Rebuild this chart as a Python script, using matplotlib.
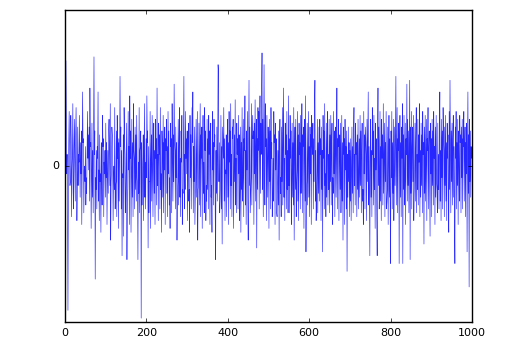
import numpy as np
import matplotlib
matplotlib.use("Agg")
import matplotlib.pyplot as plt

# noise signal, values (one row = 25 samples)
signal = [
    0.4, 0.9, 2.7, 1.1, -0.2, 0.3, -1.2, -3.7, -0.8, 0.6, 1.4, 0.2, -0.5, -0.4, 1.3, 0.7, -1.3, -0.1, 0.3, 1.6, -0.7, -1.1, 0.5, 1.2, 0.1,
    -0.9, 0.8, 1.5, 0.3, -1.4, -0.6, 1.0, -0.5, 0.3, 0.1, 1.3, 0.2, -0.8, 0.6, -0.2, 0.9, -1.5, 0.4, 1.9, 0.6, 0.7, -1.2, -0.1, 0.0, -0.4,
    0.5, -1.0, -0.3, -0.7, 0.3, 1.4, 0.2, 0.8, -0.1, 1.0, -0.9, 2.0, 0.5, 0.6, -1.6, -0.2, 1.1, -0.8, 0.4, -1.2, 0.7, 2.8, 0.3, 0.9, -2.9,
    -0.3, -0.6, 0.4, -1.1, 0.5, 0.2, 1.9, -0.9, -0.1, -1.4, 0.8, -0.4, -0.2, -1.7, 0.6, 0.0, -1.0, 1.3, 0.5, 0.7, -1.3, 0.1, -0.2, 0.4, -0.8,
    1.1, -0.3, 0.6, -1.5, -0.2, 0.4, -0.7, 0.9, 1.2, 0.3, -0.5, 1.6, -1.9, -0.4, -0.1, 1.0, 0.8, 0.2, -1.4, -0.3, 0.0, -0.6, 1.5, -1.1, -0.5,
    -0.4, 0.9, -1.3, 1.3, 0.2, 0.6, -1.6, 0.7, -0.9, 0.2, 2.3, 0.5, 1.0, -1.1, 0.4, -2.3, -0.2, -0.3, 0.8, -1.8, 1.5, 0.7, 0.3, -1.2, -0.9,
    0.1, 1.1, -2.4, -0.7, -0.6, 1.4, -0.1, 0.5, -1.5, 1.8, 0.2, 0.9, -1.7, -0.3, 1.2, -0.8, 0.6, -1.3, 1.6, 0.4, 0.2, -1.1, 1.0, -0.6, 0.8,
    -0.9, 1.3, -0.3, -0.5, -2.4, 0.1, -0.7, 1.5, -1.2, 0.4, 0.5, 0.9, -3.9, 0.6, -1.0, -0.2, 0.2, 0.8, -1.4, 0.3, 1.6, -0.8, 0.1, -1.1, 0.7,
    -0.3, 1.8, 0.6, 0.9, -2.1, 0.5, -1.2, -0.4, -0.4, 1.4, -1.6, 0.2, 0.8, -0.9, 1.3, 0.1, -1.3, 0.6, 1.1, -0.7, 0.4, -1.5, 1.2, 0.2, 0.7,
    -1.0, 2.0, -0.5, 0.3, -1.4, 1.1, 0.3, 0.8, -1.1, 1.5, -0.6, -0.2, -1.7, 0.9, 0.4, -0.8, 1.3, -1.2, 0.6, -0.1, 1.0, -1.5, 0.7, 0.4, 1.2,
    -0.7, 0.5, -1.3, 1.4, -0.2, 0.9, -1.0, -0.3, -1.6, 1.1, 0.5, 0.7, -1.2, 1.6, 0.1, -0.9, 0.8, -0.4, 2.1, 0.6, 0.4, -1.1, 1.0, -0.3, 0.6,
    -1.9, -0.8, -0.4, 1.2, -1.0, 0.5, 1.5, -0.8, 0.2, -1.3, 0.9, 0.1, 1.3, -1.5, -0.6, -0.7, 1.0, 2.3, -1.1, 0.3, -0.6, 1.4, 0.2, 0.7, -0.2,
    0.9, -1.4, 0.4, 1.1, -0.9, -0.6, -1.7, 1.3, -0.3, 0.8, -1.1, 0.2, 1.5, 0.6, 1.9, -1.2, 0.5, -0.4, 1.0, -1.5, -0.7, -0.1, 1.2, -0.8, 0.3,
    1.4, -1.9, -0.6, -0.5, 1.1, -1.0, 0.3, 1.6, -1.3, 0.8, 0.2, 1.0, -1.6, 0.4, 1.3, -0.7, 0.1, -1.2, 1.5, 0.4, 0.9, -1.4, -0.5, -0.9, 1.2,
    -0.6, 0.7, -1.1, 1.3, 0.3, 0.9, -1.5, 0.2, 1.1, -0.8, -0.5, -1.7, 1.4, -0.1, 0.6, -1.0, 1.2, 0.5, 0.8, -1.3, -2.4, 0.4, -0.7, 1.0, -0.9,
    0.3, 2.6, 2.4, -0.4, 0.6, -1.2, -0.9, -0.3, 1.3, -1.1, 0.5, -2.0, 1.0, 0.6, 0.2, 1.5, -0.9, 0.7, -1.4, -0.1, -0.2, 0.8, -1.3, 0.4, 1.2,
    -0.8, 0.6, -1.5, 1.4, 0.1, 0.9, -1.1, 1.6, -0.5, 0.3, -1.3, 1.0, 0.7, 1.2, -1.6, -0.5, 0.8, -0.4, 1.7, -1.0, 0.2, -1.2, 1.1, 0.3, 0.7,
    -1.1, 1.3, -0.2, 0.8, -1.4, -0.5, 1.0, -1.7, 0.6, -0.6, 1.5, -0.9, -0.3, 1.2, -1.3, 0.7, 0.4, 1.8, -1.0, 0.4, -1.5, 0.9, -0.1, 1.4, -0.8,
    -1.9, 0.6, 2.2, -0.5, 1.0, -1.2, -0.8, -0.3, 1.6, -1.0, 0.4, 1.3, 0.7, 0.9, -1.5, 1.1, -0.2, 1.7, -0.9, 0.5, 1.2, -2.1, 0.7, -0.6, 1.5,
    0.4, 1.4, -1.1, 0.8, 1.8, -0.7, 1.1, 0.3, 1.9, 2.9, -0.6, 1.2, -1.3, 0.9, 2.6, 0.3, -1.0, 1.6, 0.5, 0.7, -1.4, 1.3, 0.1, -0.8, 1.0,
    0.5, -1.6, 1.2, -0.4, 0.9, -1.1, 1.5, 0.2, 0.6, -1.3, -1.0, 0.2, -0.9, 1.4, 0.6, 0.8, -1.5, 1.1, -0.1, 0.7, -1.2, -1.3, -0.5, 0.4, -1.0,
    0.9, -1.9, 0.5, 1.2, -0.7, -0.3, -1.3, 1.0, -0.4, 1.5, -1.0, 0.6, 2.0, -0.8, 0.2, -1.4, 1.1, 0.3, 0.8, -1.1, 1.4, -0.6, 0.4, -1.2, 1.8,
    -0.5, 0.7, -1.2, 1.3, 0.2, 0.9, -1.5, -0.4, 1.1, -0.8, 0.6, -1.0, 1.5, -1.9, 0.3, 1.0, -0.6, 1.2, -1.3, -0.5, -0.1, 1.4, -0.9, 0.8, -1.4,
    1.1, 0.3, 0.6, -1.1, 1.3, -0.7, 0.2, 1.6, -1.2, 0.8, 0.5, 1.0, -1.6, 0.4, 1.2, -0.9, 1.8, -2.2, -0.7, -0.4, 1.1, -1.0, 0.3, 1.4, -0.8,
    0.5, -1.3, 1.0, -0.2, 0.8, -1.5, 1.3, 0.6, 0.3, 1.1, -1.1, 0.7, -0.4, 1.5, 2.2, -0.9, 0.4, -1.4, -0.9, -0.1, 1.2, -1.2, 0.6, -0.7, 1.0,
    -0.9, 1.2, 0.3, 0.7, -1.4, 1.0, -0.6, 0.4, -2.2, 1.3, 0.2, 0.9, -1.1, 1.6, -0.5, -0.2, -1.3, 1.1, -0.8, 0.6, 1.4, -1.0, 0.3, -0.6, 1.2,
    -1.2, 0.8, -0.4, 1.3, -1.0, 0.5, 1.1, -1.5, -0.3, -0.7, 1.4, -0.2, 0.9, -1.3, 0.6, 1.0, -0.8, 0.4, 2.0, -1.1, 0.7, 0.5, 1.2, -1.4, 0.2,
    0.8, -0.6, 1.1, -1.2, -0.4, 1.3, -0.9, 0.6, -1.9, 1.0, 0.3, 0.7, -1.5, 1.2, -0.1, 0.5, -1.1, 0.9, -2.7, 0.3, -0.8, 1.0, -0.4, 0.6, -1.3,
    0.4, -0.9, 0.7, -1.4, -0.2, 1.0, -0.7, 0.5, -1.2, 0.9, 1.5, -0.5, 0.3, -1.0, 1.1, 0.3, 0.6, -1.3, 0.8, -0.6, 1.2, -1.1, -0.1, 0.7, -0.8,
    1.3, -0.5, 0.9, -1.2, 0.4, 1.1, -0.9, -0.6, -1.5, 1.4, -0.2, 0.8, -1.1, 1.0, 0.6, 0.3, -1.4, 1.2, -0.4, 0.7, 1.9, -1.0, 0.5, -0.7, -2.3,
    0.6, 1.2, -0.8, 0.4, -1.3, 1.5, 0.3, 0.9, -1.0, 1.3, -0.6, 0.2, -1.6, 1.1, -0.1, 0.7, -1.2, -2.3, 0.8, 2.0, -0.5, 1.0, -1.1, -0.3, 1.4,
    -0.9, 0.5, -1.4, 1.2, 0.2, 0.8, -1.0, 1.6, -0.7, 0.3, 1.1, -1.3, 0.6, -0.4, 1.4, -1.1, -0.9, -0.6, 1.0, -1.5, 0.2, 1.3, -0.8, 0.7, -1.2,
    -2.5, 0.9, -0.3, 1.4, -1.1, 0.6, -0.7, 1.2, -1.4, -0.4, 1.0, -0.5, 0.8, 2.3, -1.0, 0.3, 1.5, -1.2, 0.7, 0.4, 1.1, -2.5, 0.5, 1.3, -0.8,
    0.6, -1.3, 1.0, 0.2, 1.6, -2.5, 0.8, -0.6, 1.3, -1.0, -0.4, 1.1, -1.5, 0.7, 0.3, 2.1, -0.9, 1.2, -0.5, 0.9, -1.2, 0.3, 2.2, -2.4, 1.0,
    -0.7, 1.4, -1.1, 0.5, 1.0, -0.4, 1.3, -1.4, -0.7, -0.2, 1.1, -0.9, 0.6, 1.5, -1.2, 0.3, -0.6, 1.2, -1.0, 0.8, 0.1, 1.6, -1.3, 0.4, -0.8,
    1.1, -0.5, 0.8, -1.2, 1.4, 0.3, 0.6, -2.0, 1.0, -0.7, 1.3, -0.9, 0.2, 1.2, -1.4, 0.7, 0.4, 1.5, -1.1, 0.5, 0.9, -0.6, -1.8, 1.1, -0.2,
    0.7, -1.3, 1.2, -0.5, 0.9, -1.0, 1.4, 0.2, 0.5, -1.5, 1.0, -0.8, 1.3, -0.4, -0.6, -1.2, 1.1, -0.6, 0.3, -1.1, 0.8, 1.9, -0.9, 0.4, -1.4,
    1.2, -0.3, 0.9, -1.1, 1.5, 0.7, 0.4, -1.3, 1.0, -0.5, 1.3, -0.9, 0.6, -1.4, 1.1, 0.2, 0.8, -1.0, -1.7, 1.4, -0.6, 2.2, 0.3, -1.2, 0.9,
    -0.4, 1.1, -1.0, 0.7, 1.3, -0.8, 0.5, -1.3, -2.5, 1.0, 0.2, 1.4, -1.1, 0.6, -0.5, 1.2, -1.5, 0.9, 0.2, -0.9, 1.3, 0.6, 0.8, -1.2, 1.0,
    -0.3, 1.2, -1.1, 0.7, 0.5, 1.4, -0.9, 0.4, 1.0, -1.3, 0.6, -0.2, 1.1, -2.2, 0.5, 1.9, -0.7, 0.8, -3.1, 1.2, -0.4, 0.9, -0.8, 0.5, 0.2,
]
xticks = [0, 200, 400, 600, 800, 1000]
yticks = [0]

plt.style.use('classic')
fig = plt.figure(figsize=(5.25, 3.47), dpi=100)
ax = fig.add_axes([0.124, 0.072, 0.775, 0.899])

ax.plot(np.arange(len(signal)), signal, color='b', lw=0.45, alpha=0.85)

ax.set_xlim(0, 1000)
ax.set_ylim(-4, 4)
ax.set_xticks(xticks)
ax.set_yticks(yticks)
ax.tick_params(labelsize=8, length=3)

fig.savefig('out.png', dpi=100)
